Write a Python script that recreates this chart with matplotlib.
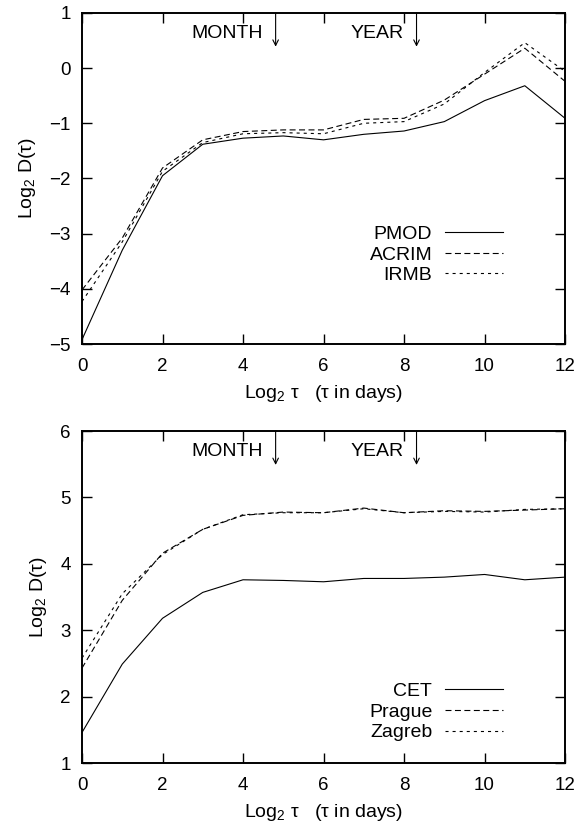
import numpy as np
import matplotlib; matplotlib.use('Agg'); import matplotlib.pyplot as plt
import matplotlib.transforms as mtransforms

plt.rcParams['font.family'] = ['Liberation Sans', 'DejaVu Sans']
plt.rcParams['mathtext.fontset'] = 'custom'
plt.rcParams['mathtext.rm'] = 'Liberation Sans'
plt.rcParams['mathtext.it'] = 'Liberation Sans:italic'
plt.rcParams['lines.scale_dashes'] = False

t = np.arange(13)

# solar irradiance composites
pmod  = [-4.92, -3.30, -1.95, -1.38, -1.27, -1.23, -1.30, -1.20, -1.14, -0.97, -0.59, -0.32, -0.91]
acrim = [-4.02, -3.08, -1.81, -1.30, -1.15, -1.12, -1.12, -0.93, -0.91, -0.58, -0.11, 0.36, -0.24]
irmb  = [-4.23, -3.15, -1.87, -1.35, -1.19, -1.17, -1.19, -1.00, -0.97, -0.65, -0.08, 0.46, -0.06]

# temperature series
cet    = [1.46, 2.49, 3.18, 3.57, 3.76, 3.75, 3.73, 3.78, 3.78, 3.80, 3.84, 3.76, 3.80]
prague = [2.43, 3.45, 4.16, 4.52, 4.73, 4.78, 4.77, 4.84, 4.77, 4.80, 4.79, 4.81, 4.83]
zagreb = [2.58, 3.55, 4.14, 4.52, 4.74, 4.77, 4.77, 4.83, 4.77, 4.79, 4.78, 4.82, 4.83]

month_x, year_x = 4.81, 8.31
styles = [dict(ls='-'), dict(dashes=(4.3, 2.5)), dict(dashes=(2.2, 2.9))]
FS = 14

fig = plt.figure(figsize=(5.82, 8.32), dpi=100)
ax1 = fig.add_axes([0.1409, 0.5865, 0.830, 0.398])
ax2 = fig.add_axes([0.1409, 0.0829, 0.830, 0.399])

panels = [(ax1, [pmod, acrim, irmb], ['PMOD', 'ACRIM', 'IRMB'], (-5, 1), 0.358),
          (ax2, [cet, prague, zagreb], ['CET', 'Prague', 'Zagreb'], (1, 6), 0.242)]

for ax, series, names, ylim, legtop in panels:
    for ys, nm, st in zip(series, names, styles):
        ax.plot(t, ys, color='black', lw=0.8, label=nm, **st)
    ax.set_xlim(0, 12); ax.set_ylim(*ylim)
    ax.set_xticks(np.arange(0, 13, 2))
    ax.set_yticks(np.arange(ylim[0], ylim[1] + 1, 1))
    ax.tick_params(direction='in', top=True, right=True, length=7, width=1, labelsize=13.5)
    ax.tick_params(axis='x', pad=10)
    ax.tick_params(axis='y', pad=8)
    for sp in ax.spines.values(): sp.set_linewidth(1.4)
    ax.set_xlabel('Log$_2$ τ   (τ in days)', fontsize=FS, labelpad=6)
    ax.set_ylabel('Log$_2$ D(τ)', fontsize=FS, labelpad=8)
    tr = mtransforms.blended_transform_factory(ax.transData, ax.transAxes)
    for xa, lab in [(month_x, 'MONTH'), (year_x, 'YEAR')]:
        ax.annotate('', xy=(xa, 0.898), xytext=(xa, 1.0), xycoords=tr, textcoords=tr,
                    arrowprops=dict(arrowstyle='->', lw=0.8, color='black', shrinkA=0, shrinkB=0))
        ax.text(xa - 0.32, 0.937, lab, transform=tr, ha='right', va='center', fontsize=FS)
    ax.legend(loc='upper right', bbox_to_anchor=(0.872, legtop), frameon=False, markerfirst=False,
              fontsize=FS, handlelength=3.0, handletextpad=0.65, labelspacing=0.15,
              borderpad=0, borderaxespad=0)

fig.savefig('out.png', dpi=100)
